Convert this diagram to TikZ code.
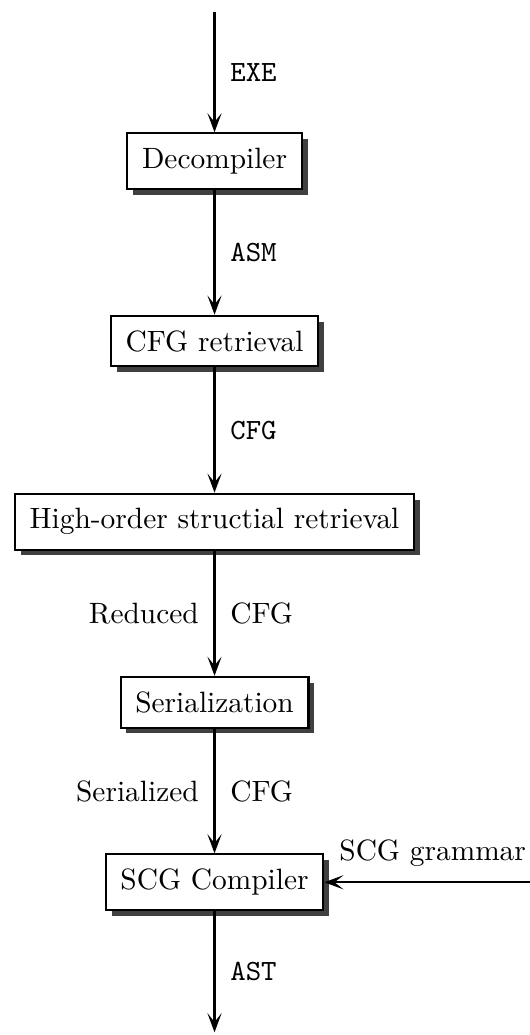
\documentclass[tikz,border=0pt]{standalone}
\usetikzlibrary{arrows.meta,shadows}

\begin{document}
\begin{tikzpicture}[
  stage/.style={draw,line width=0.7pt,fill=white,inner sep=5pt,
    drop shadow={shadow xshift=2pt,shadow yshift=-2pt,fill=black!75,opacity=1}},
  flow/.style={line width=0.75pt,-{Stealth[length=6.5pt,width=4.8pt,inset=3pt]}},
  tag/.style={inner sep=5pt}
]
\useasboundingbox (0,0) rectangle (6.337,-12.375);
\coordinate (src) at (2.565,-0.144);
\node[stage] (dec) at (2.565,-1.926) {Decompiler};
\node[stage] (cfg) at (2.565,-4.078) {CFG retrieval};
\node[stage] (hos) at (2.565,-6.237) {High-order structial retrieval};
\node[stage] (ser) at (2.565,-8.396) {Serialization};
\node[stage] (scg) at (2.565,-10.549) {SCG Compiler};
\coordinate (sink) at (2.565,-12.343);
\coordinate (gin) at (6.337,-10.549);
\draw[flow] (src)--(dec) node[midway,right,tag] {\texttt{EXE}};
\draw[flow] (dec)--(cfg) node[midway,right,tag] {\texttt{ASM}};
\draw[flow] (cfg)--(hos) node[midway,right,tag] {\texttt{CFG}};
\draw[flow] (hos)--(ser) node[midway,left,tag] {Reduced} node[midway,right,tag] {CFG};
\draw[flow] (ser)--(scg) node[midway,left,tag] {Serialized} node[midway,right,tag] {CFG};
\draw[flow] (scg)--(sink) node[midway,right,tag] {\texttt{AST}};
\draw[flow] (gin)--(scg) node[pos=0,above left,inner xsep=1pt,inner ysep=5pt] {SCG grammar};
\end{tikzpicture}
\end{document}
